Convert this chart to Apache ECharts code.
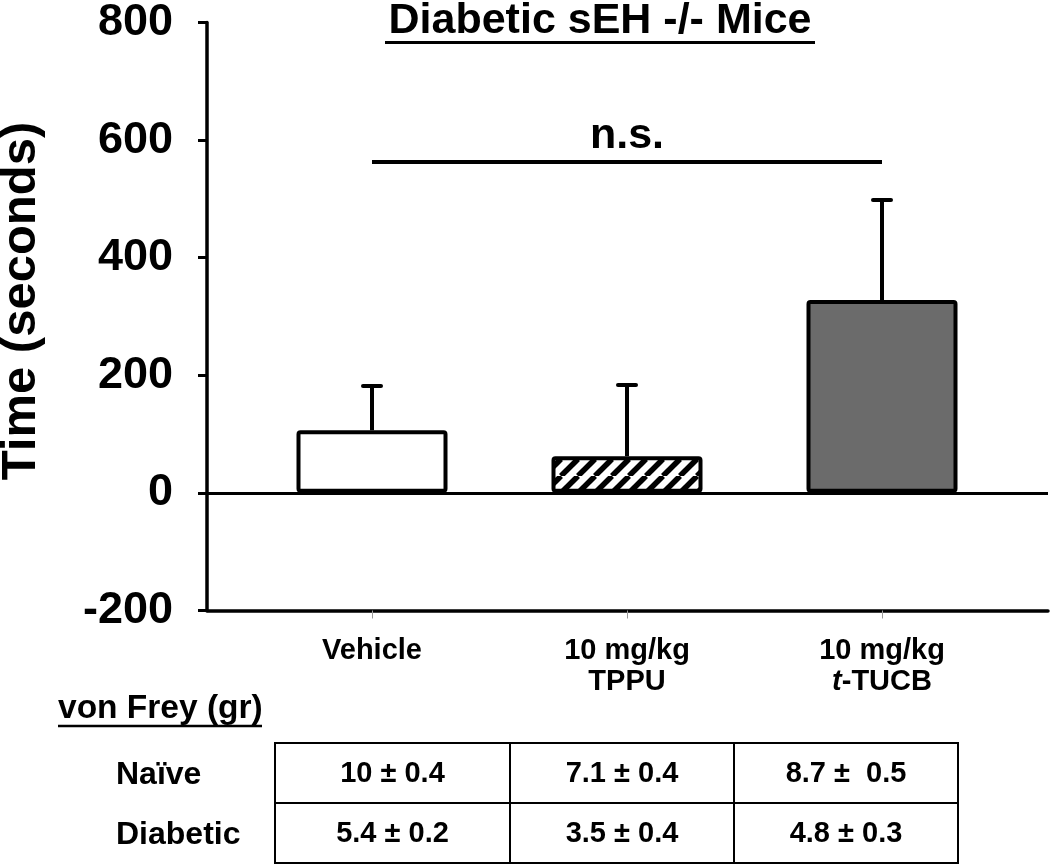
<!DOCTYPE html>
<html>
<head>
<meta charset="utf-8">
<script src="https://cdn.jsdelivr.net/npm/echarts@6/dist/echarts.min.js"></script>
<style>html,body{margin:0;padding:0;background:#fff;}#c{width:1050px;height:865px;}</style>
</head>
<body>
<div id="c"></div>
<script>
// ---- data ----
const categories = ['Vehicle', '10 mg/kg\nTPPU', '10 mg/kg\n{i|t}-TUCB'];
const means = [106, 62, 327];
const errors = [75, 121, 170];
const yTicks = [-200, 0, 200, 400, 600, 800];
const sigLevel = 562;
const sigLabel = 'n.s.';
const titleText = 'Diabetic sEH -/- Mice';
const yName = 'Time (seconds)';
const tableHeader = 'von Frey (gr)';
const rowLabels = ['Naïve', 'Diabetic'];
const naiveVals = ['10 ± 0.4', '7.1 ± 0.4', '8.7 ±  0.5'];
const diabeticVals = ['5.4 ± 0.2', '3.5 ± 0.4', '4.8 ± 0.3'];

const FONT = '"Liberation Sans", Arial, Helvetica, sans-serif';

// hatch pattern
const pc = document.createElement('canvas');
pc.width = 17; pc.height = 17;
const ctx = pc.getContext('2d');
ctx.fillStyle = '#fff'; ctx.fillRect(0, 0, 17, 17);
ctx.strokeStyle = '#000'; ctx.lineWidth = 5.5;
[-17, 0, 17].forEach(function (x0) {
  ctx.beginPath(); ctx.moveTo(x0, 17); ctx.lineTo(x0 + 17, 0); ctx.stroke();
});
const fills = ['#ffffff', { image: pc, repeat: 'repeat' }, '#6b6b6b'];

const chart = echarts.init(document.getElementById('c'), null, { renderer: 'canvas' });

// table graphic
const tLeft = 275, tTop = 743, tRowH = 60, colEdges = [275, 510, 734, 958];
const tableEls = [];
tableEls.push({ type: 'rect', shape: { x: tLeft, y: tTop, width: colEdges[3] - tLeft, height: tRowH * 2 }, style: { fill: 'none', stroke: '#000', lineWidth: 2 } });
tableEls.push({ type: 'line', shape: { x1: tLeft, y1: tTop + tRowH, x2: colEdges[3], y2: tTop + tRowH }, style: { stroke: '#000', lineWidth: 2 } });
[1, 2].forEach(function (i) {
  tableEls.push({ type: 'line', shape: { x1: colEdges[i], y1: tTop, x2: colEdges[i], y2: tTop + tRowH * 2 }, style: { stroke: '#000', lineWidth: 2 } });
});
[naiveVals, diabeticVals].forEach(function (row, r) {
  row.forEach(function (v, c) {
    tableEls.push({ type: 'text', x: (colEdges[c] + colEdges[c + 1]) / 2, y: tTop + tRowH * r + tRowH / 2 + 1,
      style: { text: v, font: 'bold 29px ' + FONT, fill: '#000', textAlign: 'center', textVerticalAlign: 'middle' } });
  });
  tableEls.push({ type: 'text', x: 116, y: tTop + tRowH * r + tRowH / 2 + 2,
    style: { text: rowLabels[r], font: 'bold 32px ' + FONT, fill: '#000', textAlign: 'left', textVerticalAlign: 'middle' } });
});

const option = {
  animation: false,
  backgroundColor: '#fff',
  grid: [
    { left: 244.5, right: 40.5, top: 21.5, bottom: 254.5 },
    { left: 207, right: 2, top: 21.5, bottom: 254.5 }
  ],
  xAxis: [
    { type: 'category', gridIndex: 0, data: categories,
      axisLine: { show: false, onZero: false },
      axisTick: { show: true, alignWithLabel: true, length: 8, lineStyle: { color: '#999', width: 1 } },
      axisLabel: { interval: 0, margin: 25, verticalAlign: 'top', fontFamily: FONT, fontWeight: 'bold', fontSize: 29, lineHeight: 31, color: '#000',
        rich: { i: { fontStyle: 'italic', fontWeight: 'bold', fontSize: 29, lineHeight: 31, fontFamily: FONT, color: '#000' } } },
      splitLine: { show: false } },
    { type: 'value', gridIndex: 1, min: 0, max: 1,
      axisLine: { show: true, onZero: false, lineStyle: { color: '#000', width: 3.5 } },
      axisTick: { show: false }, axisLabel: { show: false }, splitLine: { show: false } }
  ],
  yAxis: [
    { type: 'value', gridIndex: 0, min: yTicks[0], max: yTicks[yTicks.length - 1], interval: 200, show: false },
    { type: 'value', gridIndex: 1, min: yTicks[0], max: yTicks[yTicks.length - 1], interval: 200,
      axisLine: { show: true, lineStyle: { color: '#000', width: 3.5 } },
      axisTick: { show: true, length: 9, lineStyle: { color: '#000', width: 3 } },
      axisLabel: { margin: 34, fontFamily: FONT, fontWeight: 'bold', fontSize: 45, color: '#000' },
      splitLine: { show: true, lineStyle: { color: yTicks.map(function (t) { return t === 0 ? '#000' : 'rgba(0,0,0,0)'; }), width: 3 } } }
  ],
  series: [
    { type: 'bar', xAxisIndex: 0, yAxisIndex: 0, barWidth: 151, z: 2,
      data: means.map(function (m, i) { return { value: m, itemStyle: { color: fills[i] } }; }),
      itemStyle: { borderColor: '#000', borderWidth: 4, borderRadius: 2 },
      markLine: { silent: true, symbol: 'none',
        lineStyle: { color: '#000', width: 4, type: 'solid' },
        label: { show: true, position: 'middle', formatter: sigLabel, fontFamily: FONT, fontWeight: 'bold', fontSize: 43, color: '#000', distance: 4 },
        data: [[{ coord: [0, sigLevel] }, { coord: [2, sigLevel] }]] } },
    { type: 'custom', xAxisIndex: 0, yAxisIndex: 0, z: 5,
      data: means.map(function (m, i) { return [i, m, m + errors[i]]; }),
      encode: { x: 0, y: [1, 2] },
      renderItem: function (params, api) {
        const p0 = api.coord([api.value(0), api.value(1)]);
        const p1 = api.coord([api.value(0), api.value(2)]);
        return { type: 'group', children: [
          { type: 'line', shape: { x1: p0[0], y1: p0[1], x2: p1[0], y2: p1[1] }, style: { stroke: '#000', lineWidth: 4 } },
          { type: 'line', shape: { x1: p1[0] - 9, y1: p1[1], x2: p1[0] + 9, y2: p1[1] }, style: { stroke: '#000', lineWidth: 4, lineCap: 'round' } }
        ] };
      } }
  ],
  graphic: [
    { type: 'text', x: 600, y: 21.5, style: { text: titleText, font: 'bold 43px ' + FONT, fill: '#000', textAlign: 'center', textVerticalAlign: 'middle' } },
    { type: 'line', shape: { x1: 385, y1: 42.5, x2: 815, y2: 42.5 }, style: { stroke: '#000', lineWidth: 3 } },
    { type: 'text', x: 21, y: 301, rotation: Math.PI / 2, style: { text: yName, font: 'bold 49px ' + FONT, fill: '#000', textAlign: 'center', textVerticalAlign: 'middle' } },
    { type: 'text', x: 58, y: 709, style: { text: tableHeader, font: 'bold 33.5px ' + FONT, fill: '#000', textAlign: 'left', textVerticalAlign: 'middle' } },
    { type: 'line', shape: { x1: 58, y1: 726, x2: 262, y2: 726 }, style: { stroke: '#000', lineWidth: 2.5 } }
  ].concat(tableEls)
};
chart.setOption(option);
</script>
</body>
</html>
